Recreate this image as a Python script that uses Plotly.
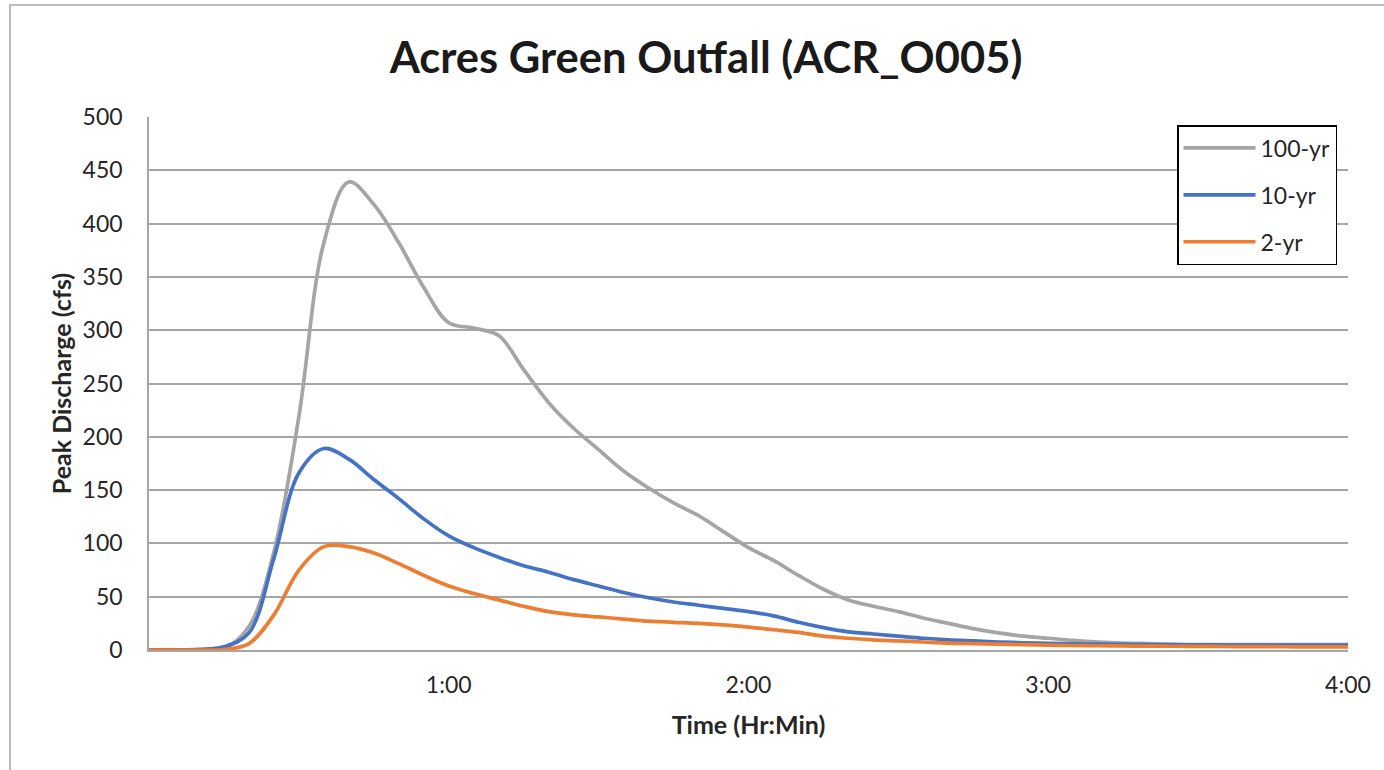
import plotly.graph_objects as go

# Time in minutes after start (5-minute steps)
minutes = [0, 5, 10, 15, 20, 25, 30, 35, 40, 45, 50, 55, 60, 65, 70, 75, 80, 85, 90, 95,
           100, 105, 110, 115, 120, 125, 130, 135, 140, 145, 150, 155, 160, 165, 170, 175,
           180, 185, 190, 195, 200, 205, 210, 215, 220, 225, 230, 235, 240]

q100 = [0, 0, 0, 1.5, 22, 92, 219, 382, 439, 418, 382, 340, 307, 302, 295, 263, 232, 208, 188, 168,
        152, 138, 126, 111, 96, 84, 70, 57, 47, 41, 36, 30, 25, 20, 16, 13,
        11, 9, 7.5, 6.5, 6, 5.5, 5, 5, 5, 5, 5, 5, 5]

q10 = [0, 0, 0.5, 3, 16, 86, 166, 189, 179, 160, 142, 123, 107, 96, 87, 79, 73, 66, 60, 54,
       49, 45, 42, 39, 36, 32, 26, 21, 17, 15, 13, 11, 9.5, 8.5, 7.5, 6.8,
       6.2, 5.8, 5.5, 5.2, 5, 4.9, 4.8, 4.7, 4.6, 4.6, 4.5, 4.5, 4.5]

q2 = [0, 0, 0, 0.5, 6, 33, 75, 97, 97, 91, 81, 70, 60, 53, 47, 41, 36, 33, 31, 29,
      27, 26, 25, 23.5, 21.5, 19, 16.5, 13, 11, 9.5, 8.5, 7.5, 6.5, 6, 5.5, 5,
      4.5, 4.2, 4, 3.8, 3.6, 3.5, 3.4, 3.3, 3.2, 3.1, 3, 3, 3]

series_names = ["100-yr", "10-yr", "2-yr"]
series_colors = ["#A5A5A5", "#4472C4", "#ED7D31"]

tick_minutes = [60, 120, 180, 240]
tick_labels = ["1:00", "2:00", "3:00", "4:00"]
y_ticks = [0, 50, 100, 150, 200, 250, 300, 350, 400, 450, 500]

FONT = "Lato"

fig = go.Figure()
for name, vals, col in zip(series_names, [q100, q10, q2], series_colors):
    fig.add_trace(go.Scatter(
        x=minutes, y=vals, name=name, mode="lines",
        line=dict(color=col, width=3.7, shape="spline", smoothing=1.0),
        legendgroup=name,
    ))

W, H = 1384, 770
L, R, T, B = 149, 36, 117, 120
pw = W - L - R
ph = H - T - B

def px_to_paper_x(px):
    return (px - L) / pw

def px_to_paper_y(py):
    return (H - B - py) / ph

fig.update_layout(
    width=W, height=H,
    margin=dict(l=L, r=R, t=T, b=B),
    paper_bgcolor="white", plot_bgcolor="white",
    font=dict(family=FONT, color="#262626", size=23),
    title=dict(text="<b>Acres Green Outfall (ACR_O005)</b>", x=706 / W, xanchor="center",
               y=1 - 58 / H, yanchor="middle",
               font=dict(family=FONT, size=43.5, color="#1a1a1a")),
    showlegend=True,
    legend=dict(
        x=px_to_paper_x(1177), y=px_to_paper_y(125), xanchor="left", yanchor="top",
        bgcolor="white", bordercolor="#000000", borderwidth=1.5,
        font=dict(family=FONT, size=23, color="#262626"),
        tracegroupgap=14, itemwidth=72,
    ),
    xaxis=dict(
        range=[0, 240], tickvals=tick_minutes, ticktext=tick_labels,
        showgrid=False, zeroline=False, showline=True, linecolor="#a6a6a6", linewidth=1.5,
        ticks="", ticklabelstandoff=14,
        title=dict(text="<b>Time (Hr:Min)</b>", font=dict(family=FONT, size=25, color="#262626"),
                   standoff=19),
    ),
    yaxis=dict(
        range=[0, 500], tickvals=y_ticks, showgrid=True, gridcolor="#a6a6a6", gridwidth=1.5,
        zeroline=False, showline=True, linecolor="#a6a6a6", linewidth=1.5,
        ticks="", ticklabelstandoff=20,
        title=dict(text="<b>Peak Discharge (cfs)</b>", font=dict(family=FONT, size=25, color="#262626"),
                   standoff=4),
    ),
)

# Outer chart border
fig.add_shape(type="rect", xref="paper", yref="paper",
              x0=px_to_paper_x(10), x1=px_to_paper_x(1395),
              y0=px_to_paper_y(785), y1=px_to_paper_y(5),
              line=dict(color="#a6a6a6", width=1.5), layer="below")

fig.write_html("out.html", config={"displayModeBar": False},
               post_script="document.body.style.margin='0px';")
